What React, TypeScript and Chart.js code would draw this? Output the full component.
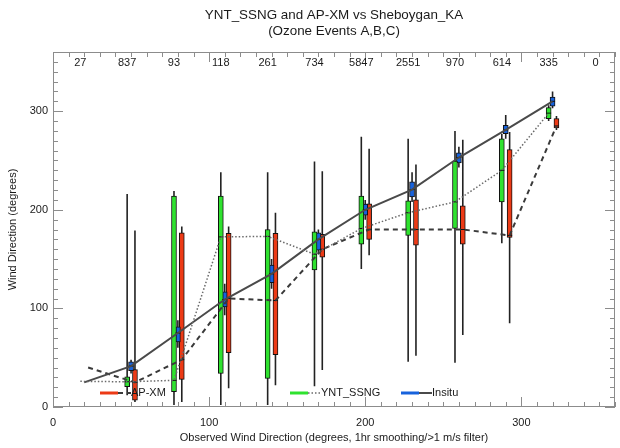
import { useEffect, useRef } from "react";
import { Chart, registerables } from "chart.js";

Chart.register(...registerables);

// Wind-direction bins (degrees) and the number of samples in each bin
const binCenters = [20, 50, 80, 110, 140, 170, 200, 230, 260, 290, 320];
const countCenters = [20, 50, 80, 110, 140, 170, 200, 230, 260, 290, 320, 350];
const eventCounts = ["27", "837", "93", "118", "261", "734", "5847", "2551", "970", "614", "335", "0"];

// YNT_SSNG model statistics per bin
const yntQ1 = [null, 20.6, 15.5, 34, 29, 139, 165, 174, 181, 208, 292.5];
const yntMedian = [26, 25.6, 27, 172.5, 173, 155, 181, 197, 208, 240, 298];
const yntQ3 = [null, 30.7, 214, 214, 180, 177.6, 214, 209, 249.5, 272, 303.6];
const yntLow = [null, 12, 2, 2, 2, 21, 140, 46, 45, 166, 290];
const yntHigh = [null, 216, 219, 238, 238, 249, 274, 272, 280, 277, 306];

// Insitu (observed) statistics per bin
const insituQ1 = [null, 36.8, 66, 101.6, 126, 159, 194.5, 213, 247.5, 277.3, 305];
const insituMedian = [25, 41.5, 75, 109, 135, 170, 200, 220.5, 253, 281, 310];
const insituQ3 = [null, 45.9, 81.4, 116.8, 144, 176.6, 205.7, 228.3, 257.7, 285.7, 314.4];
const insituLow = [null, 34, 60, 93, 120, 155, 190, 208, 243, 272, 303];
const insituHigh = [null, 48, 88, 125, 150, 180, 210, 238, 264, 296, 320];

// AP-XM model statistics per bin
const apxmQ1 = [null, 7, 28, 55, 53, 152, 170, 164, 165, 172, 283];
const apxmMedian = [40, 25, 48, 110, 108, 160, 180, 180, 180, 174, 285];
const apxmQ3 = [null, 38, 176.6, 176, 176, 175, 206, 210, 204, 261, 292.5];
const apxmLow = [null, 5, 5, 19, 22, 37.5, 154, 52, 73, 85, 281];
const apxmHigh = [null, 179, 183, 183, 197, 239, 262, 246, 271, 279, 295];

const xMajorTicks = [0, 100, 200, 300];
const yMajorTicks = [0, 100, 200, 300];

const FONT = "'Liberation Sans', Arial, Helvetica, sans-serif";

type Series = {
  name: string;
  fill: string;
  shift: number;
  q1: (number | null)[];
  med: number[];
  q3: (number | null)[];
  lo: (number | null)[];
  hi: (number | null)[];
  lineColor: string;
  lineWidth: number;
  dash: number[];
};

const series: Series[] = [
  {
    name: "YNT_SSNG", fill: "#2fe22f", shift: -2.5,
    q1: yntQ1, med: yntMedian, q3: yntQ3, lo: yntLow, hi: yntHigh,
    lineColor: "#6a6a6a", lineWidth: 1.5, dash: [1.5, 2],
  },
  {
    name: "Insitu", fill: "#1762dc", shift: 0,
    q1: insituQ1, med: insituMedian, q3: insituQ3, lo: insituLow, hi: insituHigh,
    lineColor: "#4a4a4a", lineWidth: 2, dash: [],
  },
  {
    name: "AP-XM", fill: "#ec3a16", shift: 2.5,
    q1: apxmQ1, med: apxmMedian, q3: apxmQ3, lo: apxmLow, hi: apxmHigh,
    lineColor: "#3a3a3a", lineWidth: 2, dash: [5, 4],
  },
];

function buildDatasets() {
  const out: any[] = [];
  series.forEach((s) => {
    // median connecting line
    out.push({
      type: "line",
      data: binCenters.map((b, i) => ({ x: b + s.shift, y: s.med[i] })),
      borderColor: s.lineColor,
      borderWidth: s.lineWidth,
      borderDash: s.dash,
      pointRadius: 0,
      fill: false,
      tension: 0,
      order: 0,
    });
    // median ticks inside boxes
    out.push({
      type: "line",
      showLine: false,
      data: binCenters
        .map((b, i) => (s.q1[i] == null ? null : { x: b + s.shift, y: s.med[i] }))
        .filter(Boolean),
      pointStyle: "line",
      pointRadius: 2.5,
      pointBorderColor: "#111",
      pointBorderWidth: 1,
      order: 1,
    });
    // interquartile boxes
    out.push({
      type: "bar",
      data: binCenters
        .map((b, i) => (s.q1[i] == null ? null : { x: b + s.shift, y: [s.q1[i], s.q3[i]] }))
        .filter(Boolean),
      backgroundColor: s.fill,
      borderColor: "#111",
      borderWidth: 1,
      borderSkipped: false,
      barThickness: 5,
      grouped: false,
      order: 2,
    });
    // whiskers
    const w: any[] = [];
    binCenters.forEach((b, i) => {
      if (s.lo[i] == null) return;
      w.push({ x: b + s.shift, y: s.lo[i] }, { x: b + s.shift, y: s.hi[i] }, { x: b + s.shift, y: null });
    });
    out.push({
      type: "line",
      data: w,
      borderColor: "#222",
      borderWidth: 1.6,
      pointRadius: 0,
      spanGaps: false,
      order: 3,
    });
  });
  return out;
}

const decorations = {
  id: "decorations",
  afterDatasetsDraw(chart: any) {
    const { ctx, chartArea: a, scales } = chart;
    const xs = scales.x;
    const ys = scales.y;
    ctx.save();
    ctx.strokeStyle = "#8c8c8c";
    ctx.lineWidth = 1;
    ctx.strokeRect(a.left + 0.5, a.top + 0.5, a.right - a.left - 1, a.bottom - a.top - 1);
    ctx.beginPath();
    for (let v = 0; v <= 360; v += 10) {
      const len = v % 100 === 0 ? 10 : 5;
      const px = Math.round(xs.getPixelForValue(v)) + 0.5;
      ctx.moveTo(px, a.bottom);
      ctx.lineTo(px, a.bottom - len);
      ctx.moveTo(px, a.top);
      ctx.lineTo(px, a.top + len);
      const py = Math.round(ys.getPixelForValue(v)) + 0.5;
      ctx.moveTo(a.left, py);
      ctx.lineTo(a.left + len, py);
      ctx.moveTo(a.right, py);
      ctx.lineTo(a.right - len, py);
    }
    ctx.stroke();
    ctx.restore();
  },
  afterDraw(chart: any) {
    const { ctx, chartArea: a, scales } = chart;
    const xs = scales.x;
    const ys = scales.y;
    const cx = (a.left + a.right) / 2;
    ctx.save();
    ctx.fillStyle = "#1a1a1a";

    // titles
    ctx.font = `13.4px ${FONT}`;
    ctx.textAlign = "center";
    ctx.textBaseline = "middle";
    ctx.fillText("YNT_SSNG and AP-XM vs Sheboygan_KA", cx, 15);
    ctx.fillText("(Ozone Events A,B,C)", cx, 31);

    // tick labels
    ctx.font = `11px ${FONT}`;
    xMajorTicks.forEach((v) => ctx.fillText(String(v), xs.getPixelForValue(v), a.bottom + 16));
    ctx.textAlign = "right";
    yMajorTicks.forEach((v) => ctx.fillText(String(v), a.left - 5, ys.getPixelForValue(v)));

    // sample counts along the top
    ctx.textAlign = "center";
    countCenters.forEach((b, i) => ctx.fillText(eventCounts[i], xs.getPixelForValue(b - 2.5), a.top + 11));

    // axis titles
    ctx.font = `11px ${FONT}`;
    ctx.fillText("Observed Wind Direction (degrees, 1hr smoothing/>1 m/s filter)", cx, a.bottom + 31);
    ctx.save();
    ctx.translate(13, (a.top + a.bottom) / 2);
    ctx.rotate(-Math.PI / 2);
    ctx.fillText("Wind Direction (degrees)", 0, 0);
    ctx.restore();

    // legend
    const legendY = a.bottom - 14;
    const legendX: Record<string, number> = { "AP-XM": 100, YNT_SSNG: 290, Insitu: 401 };
    ["AP-XM", "YNT_SSNG", "Insitu"].forEach((name) => {
      const s = series.find((q) => q.name === name)!;
      const x0 = legendX[name];
      ctx.lineWidth = 3;
      ctx.strokeStyle = s.fill;
      ctx.setLineDash([]);
      ctx.beginPath();
      ctx.moveTo(x0, legendY);
      ctx.lineTo(x0 + 18, legendY);
      ctx.stroke();
      ctx.lineWidth = s.lineWidth;
      ctx.strokeStyle = s.lineColor;
      ctx.setLineDash(s.dash);
      ctx.beginPath();
      ctx.moveTo(x0 + 18, legendY);
      ctx.lineTo(x0 + 31, legendY);
      ctx.stroke();
      ctx.setLineDash([]);
      ctx.textAlign = "left";
      ctx.fillText(name, x0 + 31, legendY);
    });
    ctx.restore();
  },
};

export default function App() {
  const ref = useRef<HTMLCanvasElement | null>(null);
  useEffect(() => {
    if (!ref.current) return;
    const chart = new Chart(ref.current, {
      type: "bar",
      data: { datasets: buildDatasets() },
      options: {
        responsive: false,
        animation: false,
        devicePixelRatio: 1,
        layout: { padding: { left: 53, right: 1, top: 52, bottom: 41 } },
        plugins: { legend: { display: false }, tooltip: { enabled: false }, title: { display: false } },
        scales: {
          x: { type: "linear", min: 0, max: 360, offset: false, display: false },
          y: { type: "linear", min: 0, max: 360, display: false },
        },
      },
      plugins: [decorations],
    } as any);
    return () => chart.destroy();
  }, []);
  return (
    <div style={{ position: "fixed", left: 0, top: 0, width: 620, height: 448, background: "#fff" }}>
      <canvas ref={ref} width={620} height={448} />
    </div>
  );
}
